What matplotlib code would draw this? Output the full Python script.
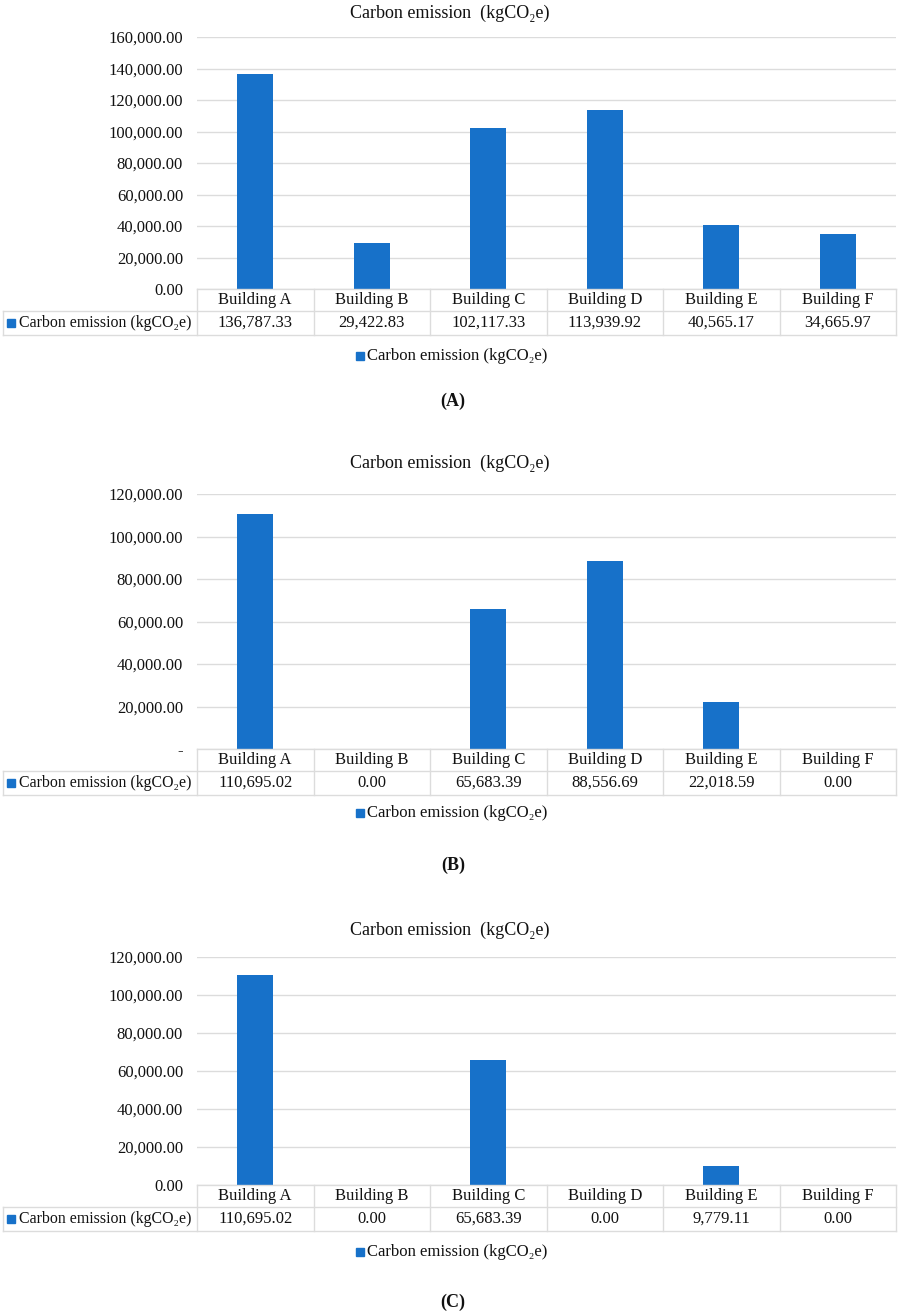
import matplotlib.pyplot as plt
from matplotlib.patches import Rectangle
from matplotlib.ticker import FuncFormatter

# Data
buildings = ['Building A', 'Building B', 'Building C', 'Building D', 'Building E', 'Building F']
emission_a = [136787.33, 29422.83, 102117.33, 113939.92, 40565.17, 34665.97]
emission_b = [110695.02, 0.00, 65683.39, 88556.69, 22018.59, 0.00]
emission_c = [110695.02, 0.00, 65683.39, 0.00, 9779.11, 0.00]
panel_labels = ['(A)', '(B)', '(C)']
series_name = 'Carbon emission (kgCO\u2082e)'
title_text = 'Carbon emission  (kgCO\u2082e)'

plt.rcParams['font.family'] = ['Liberation Serif', 'DejaVu Serif']

W, H = 899, 1311
BLUE = '#1771C9'
GRID = '#DCDCDC'
TXT = '#111111'
FS = 12

fig = plt.figure(figsize=(W / 100, H / 100), dpi=100)


def fx(x):
    return x / W


def fy(y):
    return 1 - y / H


# pixel layout of each panel: (title y, plot top, plot bottom, ymax, legend y, label y, zero label)
layout = [
    (13, 37, 289, 160000, 356, 401, '0.00'),
    (463, 494, 749, 120000, 813, 865, '-'),
    (930, 957, 1185, 120000, 1252, 1302, '0.00'),
]
series = [emission_a, emission_b, emission_c]

left, right = 197, 896
row1, row2 = 22, 24  # header row and value row heights in px

for values, (t_y, top, bot, ymax, leg_y, lab_y, zero_lab), plab in zip(series, layout, panel_labels):
    ax = fig.add_axes([fx(left), fy(bot), fx(right - left), (bot - top) / H])
    x = list(range(len(buildings)))
    ax.bar(x, values, width=0.31, color=BLUE, zorder=3)
    ax.set_xlim(-0.5, len(buildings) - 0.5)
    ax.set_ylim(0, ymax)
    ax.set_yticks(range(0, ymax + 1, 20000))
    ax.yaxis.set_major_formatter(FuncFormatter(
        lambda v, p, z=zero_lab: z if v == 0 else f'{v:,.2f}'))
    ax.tick_params(axis='y', length=0, pad=10, labelsize=FS, labelcolor=TXT)
    ax.set_xticks([])
    ax.grid(axis='y', color=GRID, linewidth=1.0, zorder=0)
    for s in ax.spines.values():
        s.set_visible(False)

    # data table under the plot, drawn in figure pixels
    y0, y1, y2 = bot, bot + row1, bot + row1 + row2
    col_w = (right - left) / len(buildings)
    lines = [
        ([left, right], [y0, y0]),
        ([3, right], [y1, y1]),
        ([3, right], [y2, y2]),
        ([3, 3], [y1, y2]),
    ]
    for i in range(len(buildings) + 1):
        xc = left + i * col_w
        lines.append(([xc, xc], [y0, y2]))
    for xs, ys in lines:
        fig.add_artist(plt.Line2D([fx(v) for v in xs], [fy(v) for v in ys],
                                  color=GRID, linewidth=1.0))
    for i, (b, v) in enumerate(zip(buildings, values)):
        xc = left + (i + 0.5) * col_w
        fig.text(fx(xc), fy((y0 + y1) / 2), b, ha='center', va='center',
                 fontsize=FS, color=TXT)
        fig.text(fx(xc), fy((y1 + y2) / 2), f'{v:,.2f}', ha='center', va='center',
                 fontsize=FS, color=TXT)
    fig.add_artist(Rectangle((fx(7), fy((y1 + y2) / 2 + 4)), fx(8), 8 / H, color=BLUE))
    fig.text(fx(19), fy((y1 + y2) / 2), series_name, ha='left', va='center',
             fontsize=11.4, color=TXT)

    # title, legend and panel label
    fig.text(0.5, fy(t_y), title_text, ha='center', va='center', fontsize=13, color=TXT)
    fig.add_artist(Rectangle((fx(356), fy(leg_y + 4)), fx(8), 8 / H, color=BLUE))
    fig.text(fx(367), fy(leg_y), series_name, ha='left', va='center',
             fontsize=FS, color=TXT)
    fig.text(fx(453), fy(lab_y), plab, ha='center', va='center',
             fontsize=13, fontweight='bold', color=TXT)

fig.savefig('out.png', dpi=100)
